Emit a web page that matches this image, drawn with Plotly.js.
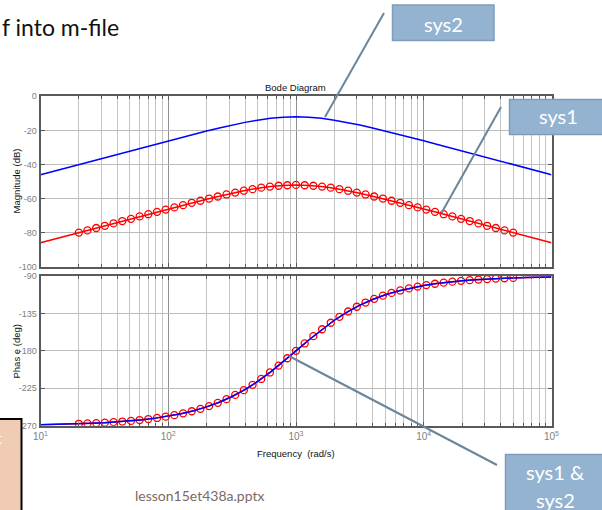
<!DOCTYPE html>
<html><head><meta charset="utf-8">
<script src="https://cdn.plot.ly/plotly-3.0.1.min.js"></script>
<style>html,body{margin:0;padding:0;background:#fff;overflow:hidden}#chart{width:602px;height:510px}</style>
</head><body><div id="chart"></div>
<script>
// ---- data ----
const freqLine = [10, 12.59, 15.85, 19.95, 25.12, 31.62, 39.81, 50.12, 63.1, 79.43,
  100, 125.9, 158.5, 199.5, 251.2, 316.2, 398.1, 501.2, 631, 794.3,
  1000, 1259, 1585, 1995, 2512, 3162, 3981, 5012, 6310, 7943,
  10000, 12589, 15849, 19953, 25119, 31623, 39811, 50119, 63096, 79433, 100000];
const magSys2 = [-46.0, -44.0, -42.0, -40.0, -38.0, -36.0, -34.0, -32.0, -30.1, -28.1,
  -26.1, -24.2, -22.2, -20.4, -18.6, -16.9, -15.3, -14.0, -12.9, -12.3,
  -12.0, -12.3, -12.9, -14.0, -15.3, -16.9, -18.6, -20.4, -22.2, -24.2,
  -26.1, -28.1, -30.1, -32.0, -34.0, -36.0, -38.0, -40.0, -42.0, -44.0, -46.0];
const magSys1 = [-86.0, -84.0, -82.0, -80.0, -78.0, -76.0, -74.0, -72.0, -70.1, -68.1,
  -66.1, -64.2, -62.2, -60.4, -58.6, -56.9, -55.3, -54.0, -52.9, -52.3,
  -52.0, -52.3, -52.9, -54.0, -55.3, -56.9, -58.6, -60.4, -62.2, -64.2,
  -66.1, -68.1, -70.1, -72.0, -74.0, -76.0, -78.0, -80.0, -82.0, -84.0, -86.0];
const phaseLine = [-268.9, -268.6, -268.2, -267.7, -267.1, -266.4, -265.4, -264.3, -262.8, -260.9,
  -258.6, -255.6, -252.0, -247.4, -241.8, -234.9, -226.6, -216.8, -205.5, -193.1,
  -180.0, -166.9, -154.5, -143.2, -133.4, -125.1, -118.2, -112.6, -108.0, -104.4,
  -101.4, -99.1, -97.2, -95.7, -94.6, -93.6, -92.9, -92.3, -91.8, -91.4, -91.1];
const freqMarkers = [19.95, 23.3, 27.3, 31.9, 37.3, 43.7, 51.1, 59.7, 69.8, 81.7,
  95.5, 111.7, 130.6, 152.8, 178.6, 208.9, 244.3, 285.8, 334.2, 390.8,
  457.1, 534.6, 625.2, 731.1, 855.1, 1000, 1169.5, 1367.7, 1599.6, 1870.7,
  2187.8, 2558.6, 2992.3, 3499.5, 4092.6, 4786.3, 5597.6, 6546.4, 7656, 8953.6,
  10471, 12246, 14322, 16749, 19588, 22909, 26792, 31333, 36644, 42855, 50119];
const magMarkers = [-80.0, -78.7, -77.3, -76.0, -74.6, -73.2, -71.9, -70.5, -69.2, -67.8,
  -66.5, -65.2, -63.9, -62.5, -61.3, -60.0, -58.8, -57.6, -56.5, -55.4,
  -54.5, -53.6, -53.0, -52.5, -52.2, -52.0, -52.2, -52.5, -53.0, -53.6,
  -54.5, -55.4, -56.5, -57.6, -58.8, -60.0, -61.3, -62.5, -63.9, -65.2,
  -66.5, -67.8, -69.2, -70.5, -71.9, -73.2, -74.6, -76.0, -77.3, -78.7, -80.0];
const phaseMarkers = [-267.7, -267.3, -266.9, -266.3, -265.7, -265.0, -264.2, -263.2, -262.0, -260.7,
  -259.1, -257.3, -255.1, -252.6, -249.7, -246.4, -242.5, -238.1, -233.0, -227.3,
  -220.9, -213.8, -206.0, -197.7, -188.9, -180.0, -171.1, -162.3, -154.0, -146.2,
  -139.1, -132.7, -127.0, -121.9, -117.5, -113.6, -110.3, -107.4, -104.9, -102.7,
  -100.9, -99.3, -98.0, -96.8, -95.8, -95.0, -94.3, -93.7, -93.1, -92.7, -92.3];
const xTickVals = [10, 100, 1000, 10000, 100000];
const xTickText = ['10<sup>1</sup>', '10<sup>2</sup>', '10<sup>3</sup>', '10<sup>4</sup>', '10<sup>5</sup>'];
const magTicks = [0, -20, -40, -60, -80, -100];
const phaseTicks = [-90, -135, -180, -225, -270];

// ---- layout helpers ----
const W = 602, H = 510;
const px = x => x / W;
const py = y => 1 - y / H;
const minorTicks = [];
for (let e = 1; e < 5; e++) for (let d = 2; d <= 9; d++) minorTicks.push(d * Math.pow(10, e));

const narrow = 'Liberation Sans Narrow, Arial Narrow, Liberation Sans, Arial, sans-serif';
const slideFont = 'Lato, Open Sans, sans-serif';
const frame = '#5a5a5a';

const axBase = {
  showline: true, linecolor: frame, linewidth: 2, mirror: 'ticks',
  ticks: 'inside', ticklen: 4, tickcolor: frame, tickwidth: 1,
  showgrid: true, zeroline: false, fixedrange: true,
  tickfont: {family: narrow, size: 9, color: '#808080'}
};
const xBase = Object.assign({}, axBase, {
  type: 'log', range: [1, 5], domain: [px(40.5), px(551.5)],
  tickmode: 'array', tickvals: xTickVals, ticktext: xTickText,
  gridcolor: '#8f8f8f', gridwidth: 1,
  minor: {tickmode: 'array', tickvals: minorTicks, showgrid: true, gridcolor: '#c4c4c4',
          gridwidth: 1, ticks: 'inside', ticklen: 3, tickcolor: frame}
});

const blue = '#0000ff', red = '#ff0000';
const traces = [
  {x: freqLine, y: magSys2, xaxis: 'x', yaxis: 'y', mode: 'lines', line: {color: blue, width: 1.5}},
  {x: freqLine, y: magSys1, xaxis: 'x', yaxis: 'y', mode: 'lines', line: {color: red, width: 1.5}},
  {x: freqMarkers, y: magMarkers, xaxis: 'x', yaxis: 'y', mode: 'markers',
   marker: {symbol: 'circle-open', size: 7, color: red, line: {width: 1.3, color: red}}},
  {x: freqLine, y: phaseLine, xaxis: 'x2', yaxis: 'y2', mode: 'lines', line: {color: red, width: 1.5}},
  {x: freqMarkers, y: phaseMarkers, xaxis: 'x2', yaxis: 'y2', mode: 'markers',
   marker: {symbol: 'circle-open', size: 7, color: red, line: {width: 1.3, color: red}}},
  {x: freqLine, y: phaseLine, xaxis: 'x2', yaxis: 'y2', mode: 'lines', line: {color: blue, width: 1.5}}
];

const calloutFill = '#93b3d0', calloutEdge = '#7f9dba', calloutLine = '#6b8599';
const shapes = [
  {type: 'line', xref: 'paper', yref: 'paper', x0: px(384), y0: py(13), x1: px(325), y1: py(117), line: {color: calloutLine, width: 2}, layer: 'above'},
  {type: 'line', xref: 'paper', yref: 'paper', x0: px(501), y0: py(107), x1: px(441.5), y1: py(213), line: {color: calloutLine, width: 2}, layer: 'above'},
  {type: 'line', xref: 'paper', yref: 'paper', x0: px(289), y0: py(356), x1: px(497), y1: py(465), line: {color: calloutLine, width: 2}, layer: 'above'},
  {type: 'rect', xref: 'paper', yref: 'paper', x0: px(392.5), y0: py(5), x1: px(494), y1: py(40.5), fillcolor: calloutFill, line: {color: calloutEdge, width: 1.5}, layer: 'above'},
  {type: 'rect', xref: 'paper', yref: 'paper', x0: px(509.5), y0: py(99.5), x1: px(606), y1: py(134.5), fillcolor: calloutFill, line: {color: calloutEdge, width: 1.5}, layer: 'above'},
  {type: 'rect', xref: 'paper', yref: 'paper', x0: px(505.5), y0: py(454.5), x1: px(606), y1: py(515), fillcolor: calloutFill, line: {color: calloutEdge, width: 1.5}, layer: 'above'},
  {type: 'rect', xref: 'paper', yref: 'paper', x0: px(-6), y0: py(419), x1: px(21.5), y1: py(516), fillcolor: '#f1ccb4', line: {color: '#000000', width: 2}, layer: 'above'}
];

const ann = (x, y, text, opts) => Object.assign({
  xref: 'paper', yref: 'paper', x: px(x), y: py(y), text: text, showarrow: false,
  xanchor: 'center', yanchor: 'middle'
}, opts || {});

const annotations = [
  ann(0, 27, 'f into m-file', {xanchor: 'left', font: {family: slideFont, size: 23, color: '#111111'}}),
  ann(443, 23.5, 'sys2', {font: {family: slideFont, size: 20, color: '#ffffff'}}),
  ann(558, 116.5, 'sys1', {font: {family: slideFont, size: 20, color: '#ffffff'}}),
  ann(555, 471.5, 'sys1 &', {font: {family: slideFont, size: 20, color: '#ffffff'}}),
  ann(555, 499.5, 'sys2', {font: {family: slideFont, size: 20, color: '#ffffff'}}),
  ann(199, 495, 'lesson15et438a.pptx', {font: {family: slideFont, size: 14, color: '#7a6a62'}}),
  ann(4, 437, 't', {xanchor: 'right', font: {family: slideFont, size: 16, color: '#ffffff'}}),
  ann(295.5, 87, 'Bode Diagram', {font: {family: narrow, size: 9.5, color: '#111111'}}),
  ann(295.5, 453, 'Frequency&nbsp;&nbsp;(rad/s)', {font: {family: narrow, size: 9.5, color: '#111111'}}),
  ann(16, 181.5, 'Magnitude (dB)', {textangle: -90, font: {family: narrow, size: 9.5, color: '#111111'}}),
  ann(16, 351.5, 'Phas e (deg)', {textangle: -90, font: {family: narrow, size: 9.5, color: '#111111'}})
];

const layout = {
  width: W, height: H, margin: {l: 0, r: 0, t: 0, b: 0},
  paper_bgcolor: '#ffffff', plot_bgcolor: '#ffffff',
  showlegend: false, hovermode: false,
  xaxis: Object.assign({}, xBase, {anchor: 'y', showticklabels: false}),
  xaxis2: Object.assign({}, xBase, {anchor: 'y2', showticklabels: true, tickfont: {family: narrow, size: 10, color: '#808080'}}),
  yaxis: Object.assign({}, axBase, {anchor: 'x', domain: [py(266.7), py(96.3)], range: [-100, 0],
    tickmode: 'array', tickvals: magTicks, ticktext: magTicks.map(String), gridcolor: '#bdbdbd'}),
  yaxis2: Object.assign({}, axBase, {anchor: 'x2', domain: [py(425.7), py(276)], range: [-270, -90],
    tickmode: 'array', tickvals: phaseTicks, ticktext: phaseTicks.map(String), gridcolor: '#bdbdbd'}),
  shapes: shapes, annotations: annotations
};

Plotly.newPlot('chart', traces, layout, {staticPlot: true, displayModeBar: false});
</script></body></html>
